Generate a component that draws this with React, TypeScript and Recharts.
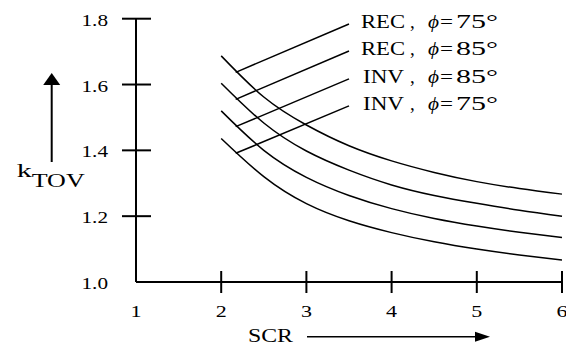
import React from 'react';
import { ComposedChart, Line, XAxis, YAxis, ReferenceLine, Scatter } from 'recharts';

// SCR sample points shared by all four curves
const scrValues = [2, 2.5, 3, 3.5, 4, 4.5, 5, 5.5, 6];

// k_TOV per curve
const rec75 = [1.687, 1.562, 1.477, 1.414, 1.368, 1.333, 1.305, 1.284, 1.267];
const rec85 = [1.604, 1.483, 1.398, 1.34, 1.295, 1.263, 1.239, 1.218, 1.2];
const inv85 = [1.52, 1.4, 1.318, 1.263, 1.223, 1.193, 1.17, 1.151, 1.135];
const inv75 = [1.436, 1.32, 1.238, 1.186, 1.15, 1.122, 1.1, 1.082, 1.067];

const curveNames = ['rec75', 'rec85', 'inv85', 'inv75'];
const curveValues = [rec75, rec85, inv85, inv75];
const modes = ['REC', 'REC', 'INV', 'INV'];
const angles = ['75°', '85°', '85°', '75°'];

// leader lines: from a point on each curve to its text label
const leaderScr = 2.17;
const leaderOnCurve = [1.637, 1.555, 1.472, 1.391];
const labelScr = 3.5;
const labelLevels = [1.784, 1.702, 1.617, 1.535];

const xTicks = [1, 2, 3, 4, 5, 6];
const yTicks = [1.0, 1.2, 1.4, 1.6, 1.8];

const SERIF = "'Liberation Serif', 'Times New Roman', serif";
const INK = '#000';

const curves = curveValues.map((vals) => scrValues.map((x, i) => ({ x, y: vals[i] })));
const labelPoints = labelLevels.map((y, i) => ({ x: labelScr, y, mode: modes[i], angle: angles[i] }));

const fit = { lengthAdjust: 'spacingAndGlyphs' as const };

const XTick = (props: any) => {
  const { x, y, payload } = props;
  return (
    <g>
      {payload.value !== 1 && (
        <line x1={x} x2={x} y1={y - 11} y2={y + 11} stroke={INK} strokeWidth={2} />
      )}
      <text x={x} y={y + 35} textAnchor="middle" fontFamily={SERIF} fontSize={17} fill={INK} textLength={11} {...fit}>
        {String(payload.value)}
      </text>
    </g>
  );
};

const YTick = (props: any) => {
  const { x, y, payload } = props;
  return (
    <g>
      {payload.value !== 1 && (
        <line x1={x - 14} x2={x + 15} y1={y} y2={y} stroke={INK} strokeWidth={2} />
      )}
      <text x={x - 28} y={y + 7} textAnchor="end" fontFamily={SERIF} fontSize={17} fill={INK} textLength={26.5} {...fit}>
        {Number(payload.value).toFixed(1)}
      </text>
    </g>
  );
};

const XTitle = (props: any) => {
  const vb = props.viewBox || { x: 128, y: 274 };
  const ax = vb.x;
  const ay = vb.y;
  const arrowY = ay + 54.7;
  const tipX = ax + 354;
  return (
    <g>
      <text x={ax + 112} y={ay + 60} fontFamily={SERIF} fontSize={19} fill={INK} textLength={45} {...fit}>
        SCR
      </text>
      <line x1={ax + 171} x2={tipX - 12} y1={arrowY} y2={arrowY} stroke={INK} strokeWidth={1.5} />
      <path d={`M${tipX},${arrowY} L${tipX - 15},${arrowY - 5} L${tipX - 15},${arrowY + 5} Z`} fill={INK} />
    </g>
  );
};

const YTitle = (props: any) => {
  const vb = props.viewBox || { x: 68, y: 10.7 };
  const ax = vb.x;
  const ay = vb.y;
  const arrowX = ax - 24.3;
  const tipY = ay + 54.3;
  return (
    <g>
      <line x1={arrowX} x2={arrowX} y1={tipY + 10} y2={ay + 143.3} stroke={INK} strokeWidth={2} />
      <path d={`M${arrowX},${tipY} L${arrowX - 8.5},${tipY + 12} L${arrowX + 8.5},${tipY + 12} Z`} fill={INK} />
      <text x={ax - 59.3} y={ay + 157.8} fontFamily={SERIF} fontSize={19} fill={INK} textLength={15} {...fit}>
        k
      </text>
      <text x={ax - 44.3} y={ay + 167.8} fontFamily={SERIF} fontSize={18} fill={INK} textLength={53} {...fit}>
        TOV
      </text>
    </g>
  );
};

const CurveLabel = (props: any) => {
  const { cx, cy, payload } = props;
  const base = cy + 4;
  const isRec = payload.mode === 'REC';
  return (
    <g fontFamily={SERIF} fontSize={19} fill={INK}>
      <text x={cx + (isRec ? 12 : 14)} y={base} textLength={isRec ? 44 : 41} {...fit}>
        {payload.mode}
      </text>
      <text x={cx + 61} y={base}>,</text>
      <text x={cx + 79} y={base} fontStyle="italic" textLength={11} {...fit}>
        ϕ
      </text>
      <text x={cx + 91} y={base} textLength={13} {...fit}>
        =
      </text>
      <text x={cx + 107} y={base} textLength={42} {...fit}>
        {payload.angle}
      </text>
    </g>
  );
};

export default function App() {
  return (
    <div style={{ width: 566, height: 339 }}>
      <ComposedChart width={566} height={339} margin={{ top: 10.7, right: 12, left: 68, bottom: 35 }}>
        <XAxis
          type="number"
          dataKey="x"
          domain={[1, 6]}
          ticks={xTicks}
          axisLine={{ stroke: INK, strokeWidth: 2 }}
          tickLine={false}
          tickSize={0}
          tickMargin={0}
          tick={<XTick />}
          height={30}
          interval={0}
          label={XTitle}
        />
        <YAxis
          type="number"
          dataKey="y"
          domain={[1, 1.8]}
          ticks={yTicks}
          axisLine={{ stroke: INK, strokeWidth: 2 }}
          tickLine={false}
          tickSize={0}
          tickMargin={0}
          tick={<YTick />}
          width={60}
          interval={0}
          label={YTitle}
        />
        {curves.map((data, i) => (
          <Line
            key={curveNames[i]}
            data={data}
            dataKey="y"
            type="natural"
            stroke={INK}
            strokeWidth={1.5}
            dot={false}
            activeDot={false}
            isAnimationActive={false}
          />
        ))}
        {labelLevels.map((lv, i) => (
          <ReferenceLine
            key={`leader-${i}`}
            segment={[
              { x: leaderScr, y: leaderOnCurve[i] },
              { x: labelScr, y: lv },
            ]}
            stroke={INK}
            strokeWidth={1.5}
          />
        ))}
        <Scatter data={labelPoints} dataKey="y" shape={CurveLabel} isAnimationActive={false} />
      </ComposedChart>
    </div>
  );
}
